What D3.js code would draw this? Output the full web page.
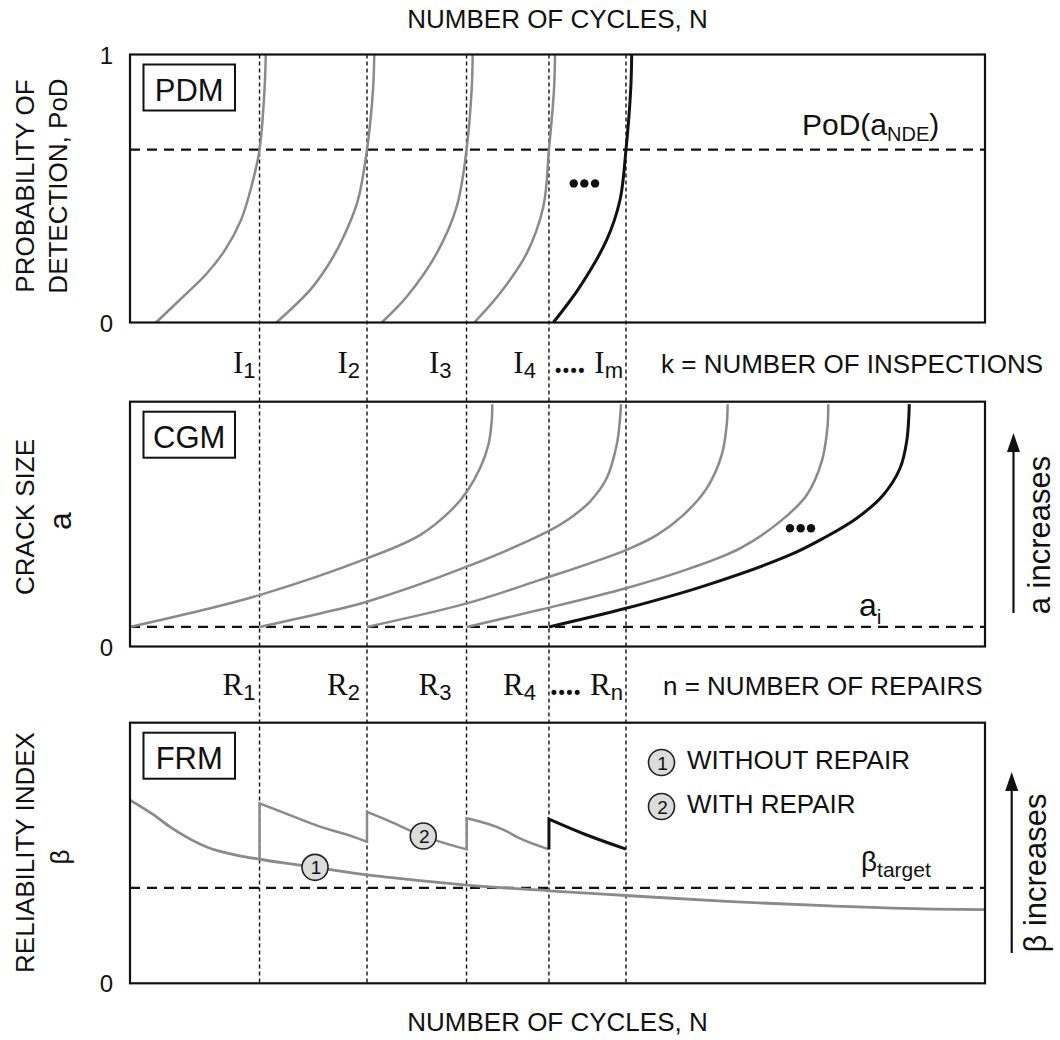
<!DOCTYPE html>
<html><head><meta charset="utf-8">
<script src="https://cdn.jsdelivr.net/npm/d3@7"></script>
<style>body{margin:0;background:#fff}</style>
</head><body>
<svg id="c" width="1060" height="1040"></svg>
<script>
// ---------------- DATA ----------------
// inspection / repair times (number of cycles, arbitrary units 0..100)
const inspections = [15.15, 27.72, 39.36, 49.0, 58.01];
const inspLabels = [["I","1"],["I","2"],["I","3"],["I","4"],["I","m"]];
const repairLabels = [["R","1"],["R","2"],["R","3"],["R","4"],["R","n"]];
const labelGaps = [4, 7, 15, 13, 3];

// PDM: probability of detection curves [N, PoD]
const podThreshold = 0.645;
const pdm1 = [[3.04,0],[6.0,0.09],[8.9,0.18],[11.1,0.27],[12.98,0.382],[14.2,0.507],[15.15,0.645],[15.73,0.868],[15.88,1]];
const pdm2 = [[17.13,0],[21.05,0.121],[23.05,0.208],[24.8,0.308],[26.6,0.45],[27.72,0.645],[28.42,0.868],[28.57,1]];
const pdm3 = [[29.44,0],[32.36,0.096],[35.87,0.258],[38.21,0.432],[39.36,0.645],[39.96,0.868],[40.08,1]];
const pdm4 = [[40.27,0],[43.27,0.109],[46.4,0.258],[48.34,0.432],[49.0,0.645],[49.59,0.868],[49.71,1]];
const pdm5 = [[49.51,0],[52.63,0.134],[55.75,0.308],[57.31,0.457],[58.01,0.645],[58.56,0.868],[58.68,1]];
const pdmCurves = [pdm1, pdm2, pdm3, pdm4, pdm5];

// CGM: crack growth curves [N, a]
const aInitial = 0.8;
const cgm1 = [[0,0.8],[8.19,1.46],[15.15,2.10],[27.72,3.60],[33.92,4.55],[37.81,5.65],[39.38,6.32],[40.94,7.28],[41.91,8.23],[42.3,9.18],[42.37,9.9]];
const cgm2 = [[15.15,0.8],[22.22,1.35],[27.72,1.83],[39.38,3.26],[49.0,4.72],[51.46,5.24],[53.8,5.92],[55.75,6.87],[56.92,8.23],[57.3,9.25],[57.43,9.9]];
const cgm3 = [[27.72,0.8],[39.38,1.76],[47.95,2.72],[58.01,3.94],[61.6,4.55],[64.71,5.37],[67.45,6.46],[69.2,7.82],[69.79,9.05],[69.9,9.9]];
const cgm4 = [[39.38,0.8],[47.95,1.5],[58.01,2.38],[65.5,3.19],[71.35,4.01],[76.02,5.10],[79.15,6.19],[80.9,7.55],[81.56,8.91],[81.67,9.9]];
const cgm5 = [[49.0,0.8],[58.01,1.56],[67.45,2.51],[77.19,3.74],[81.09,4.42],[85.0,5.24],[88.1,6.19],[90.06,7.28],[90.84,8.37],[91.15,9.9]];
const cgmCurves = [cgm1, cgm2, cgm3, cgm4, cgm5];

// FRM: reliability index [N, beta]
const betaTarget = 3.66;
const betaWithout = [[0,7.03],[2.69,6.48],[4.68,6.0],[6.78,5.58],[9.12,5.21],[12.4,4.92],[15.15,4.76],[18.36,4.6],[21.64,4.45],[27.72,4.16],[33.92,3.94],[39.38,3.77],[49.0,3.55],[58.01,3.37],[69.82,3.14],[81.87,2.97],[93.92,2.85],[100,2.83]];
// repair jumps: [N, beta before, beta after]
const repairJumps = [[15.15,4.76,6.91],[27.72,5.43,6.58],[39.38,5.14,6.33],[49.0,5.14,6.30]];
const repairDecay = [
  [[15.15,6.91],[18.33,6.5],[22.22,6.01],[26.08,5.63],[27.72,5.43]],
  [[27.72,6.58],[30.0,6.27],[34.3,5.65],[39.38,5.14]],
  [[39.38,6.33],[43.63,5.9],[45.6,5.56],[49.0,5.14]],
  [[49.0,6.30],[53.42,5.69],[58.01,5.15]]
];
const markerWithout = [21.64, 4.45];
const markerWith = [34.3, 5.65];
const pdmDots = [[51.9,0.519],[53.14,0.519],[54.39,0.519]];
const cgmDots = [[77.19,4.83],[78.44,4.83],[79.65,4.83]];

// ---------------- SCALES ----------------
const x = d3.scaleLinear().domain([0,100]).range([130,985]);
const yP = d3.scaleLinear().domain([0,1]).range([322.5,54.5]);
const yA = d3.scaleLinear().domain([0,10]).range([646.5,401.7]);
const yB = d3.scaleLinear().domain([0,10]).range([983.3,722.7]);

const SANS = "'Liberation Sans', Arial, Helvetica, sans-serif";
const SERIF = "'Liberation Serif', 'Times New Roman', serif";
const GRAY = "#8a8a8a";
const INK = "#111";

const svg = d3.select("#c");
svg.append("rect").attr("width",1060).attr("height",1040).attr("fill","#fff");

// horizontal dashed reference lines
[[yP, podThreshold],[yA, aInitial],[yB, betaTarget]].forEach(([s,v]) => {
  svg.append("line").attr("x1",x(0)).attr("x2",x(100)).attr("y1",s(v)).attr("y2",s(v))
    .attr("stroke",INK).attr("stroke-width",2.4).attr("stroke-dasharray","10,7");
});

// vertical inspection lines
svg.selectAll("line.insp").data(inspections).join("line").attr("class","insp")
  .attr("x1",d=>x(d)).attr("x2",d=>x(d)).attr("y1",yP(1)).attr("y2",yB(0))
  .attr("stroke",INK).attr("stroke-width",1.4).attr("stroke-dasharray","4,3");

const smooth = d3.curveCatmullRom.alpha(0.5);

// PDM curves
const lineP = d3.line().x(d=>x(d[0])).y(d=>yP(d[1])).curve(smooth);
svg.selectAll("path.pdm").data(pdmCurves).join("path").attr("class","pdm")
  .attr("d",lineP).attr("fill","none")
  .attr("stroke",(d,i)=> i===pdmCurves.length-1 ? INK : GRAY)
  .attr("stroke-width",(d,i)=> i===pdmCurves.length-1 ? 3 : 2.5);

// CGM curves
const lineA = d3.line().x(d=>x(d[0])).y(d=>yA(d[1])).curve(smooth);
svg.selectAll("path.cgm").data(cgmCurves).join("path").attr("class","cgm")
  .attr("d",lineA).attr("fill","none")
  .attr("stroke",(d,i)=> i===cgmCurves.length-1 ? INK : GRAY)
  .attr("stroke-width",(d,i)=> i===cgmCurves.length-1 ? 3 : 2.5);

// FRM curves
const lineB = d3.line().x(d=>x(d[0])).y(d=>yB(d[1])).curve(d3.curveMonotoneX);
svg.append("path").attr("d",lineB(betaWithout)).attr("fill","none").attr("stroke",GRAY).attr("stroke-width",2.8);

function repairPath(jumps, decays){
  let s = "";
  jumps.forEach((j,i)=>{
    if(i===0) s += "M"+x(j[0])+","+yB(j[1]);
    s += "L"+x(j[0])+","+yB(j[2]);
    const p = lineB(decays[i]);
    s += p.slice(p.search(/[CL]/));
  });
  return s;
}
svg.append("path").attr("d",repairPath(repairJumps.slice(0,3), repairDecay.slice(0,3)))
  .attr("fill","none").attr("stroke",GRAY).attr("stroke-width",2.5).attr("stroke-linejoin","miter");
svg.append("path").attr("d",repairPath(repairJumps.slice(3), repairDecay.slice(3)))
  .attr("fill","none").attr("stroke",INK).attr("stroke-width",3).attr("stroke-linejoin","miter");

// numbered markers
function numMarker(cx, cy, n){
  svg.append("circle").attr("cx",cx).attr("cy",cy).attr("r",13)
    .attr("fill","#dcdcdc").attr("stroke","#222").attr("stroke-width",1.6);
  svg.append("text").attr("x",cx+1).attr("y",cy+7).attr("text-anchor","middle")
    .attr("font-family",SANS).attr("font-size",19).attr("fill",INK).text(n);
}
numMarker(x(markerWithout[0]), yB(markerWithout[1]), "1");
numMarker(x(markerWith[0]), yB(markerWith[1]), "2");

// ellipsis dots
svg.selectAll("circle.pdot").data(pdmDots).join("circle").attr("class","pdot")
  .attr("cx",d=>x(d[0])).attr("cy",d=>yP(d[1])).attr("r",4.2).attr("fill",INK);
svg.selectAll("circle.cdot").data(cgmDots).join("circle").attr("class","cdot")
  .attr("cx",d=>x(d[0])).attr("cy",d=>yA(d[1])).attr("r",4.2).attr("fill",INK);

// panel frames
[[yP,1],[yA,10],[yB,10]].forEach(([s,top])=>{
  svg.append("rect").attr("x",x(0)).attr("y",s(top)).attr("width",x(100)-x(0)).attr("height",s(0)-s(top))
    .attr("fill","none").attr("stroke",INK).attr("stroke-width",2.2);
});

// panel name boxes
[["PDM",yP(1)],["CGM",yA(10)],["FRM",yB(10)]].forEach(([t,top])=>{
  svg.append("rect").attr("x",143.5).attr("y",top+10).attr("width",91.5).attr("height",46)
    .attr("fill","#fff").attr("stroke",INK).attr("stroke-width",2);
  svg.append("text").attr("x",189.25).attr("y",top+46).attr("text-anchor","middle")
    .attr("font-family",SANS).attr("font-size",31).attr("fill",INK).text(t);
});

// tick labels (axes)
function tickAxis(scale, vals){
  svg.append("g").attr("transform",`translate(${x(0)},0)`)
    .call(d3.axisLeft(scale).tickValues(vals).tickSize(0).tickPadding(17).tickFormat(d3.format("d")))
    .call(g=>g.select(".domain").remove())
    .selectAll("text").attr("font-size",24).attr("font-family",SANS).attr("fill",INK).attr("dy","0.36em");
}
tickAxis(yP,[0,1]); tickAxis(yA,[0]); tickAxis(yB,[0]);

// titles
function htext(xx, yy, str, size, anchor){
  return svg.append("text").attr("x",xx).attr("y",yy).attr("text-anchor",anchor||"start")
    .attr("font-family",SANS).attr("font-size",size).attr("fill",INK).text(str);
}
htext((x(0)+x(100))/2, 28, "NUMBER OF CYCLES, N", 26, "middle");
htext((x(0)+x(100))/2, 1031, "NUMBER OF CYCLES, N", 26, "middle");
htext(661, 373, "k = NUMBER OF INSPECTIONS", 26);
htext(663, 695, "n = NUMBER OF REPAIRS", 26);

function vtext(xx, yy, str, size){
  svg.append("text").attr("transform",`translate(${xx},${yy}) rotate(-90)`).attr("text-anchor","middle")
    .attr("font-family",SANS).attr("font-size",size).attr("fill",INK).text(str);
}
vtext(34, 186, "PROBABILITY OF", 26);
vtext(67, 186, "DETECTION, PoD", 26);
vtext(34, 517, "CRACK SIZE", 26);
vtext(71, 521, "a", 32);
vtext(34, 852.5, "RELIABILITY INDEX", 26);
vtext(69, 857, "β", 26);
vtext(1050, 535, "a increases", 31);
vtext(1046, 873, "β increases", 31);

// arrows
function arrow(ax, yBottom, yTip){
  svg.append("line").attr("x1",ax).attr("x2",ax).attr("y1",yBottom).attr("y2",yTip+14)
    .attr("stroke",INK).attr("stroke-width",2.2);
  svg.append("path").attr("d",`M${ax},${yTip}L${ax-6.5},${yTip+19}L${ax+6.5},${yTip+19}Z`).attr("fill",INK);
}
arrow(1013.5, 613, 433);
arrow(1011.7, 953, 772);

// inspection / repair labels
function seqLabels(labels, baseY){
  labels.forEach((l,i)=>{
    const t = svg.append("text").attr("x",x(inspections[i])-labelGaps[i]).attr("y",baseY)
      .attr("text-anchor","end").attr("fill",INK);
    if(i===labels.length-1){
      t.append("tspan").attr("font-family",SERIF).attr("font-weight","bold").attr("font-size",31).text("....");
      t.append("tspan").attr("dx",9).attr("font-family",SERIF).attr("font-size",31).text(l[0]);
    } else {
      t.append("tspan").attr("font-family",SERIF).attr("font-size",31).text(l[0]);
    }
    t.append("tspan").attr("dy",5).attr("font-family",SANS).attr("font-size",22).text(l[1]);
  });
}
seqLabels(inspLabels, 373);
seqLabels(repairLabels, 695);

// PoD(a_NDE)
{
  const t = svg.append("text").attr("x",802).attr("y",135).attr("font-family",SANS).attr("fill",INK);
  t.append("tspan").attr("font-size",30).text("PoD(a");
  t.append("tspan").attr("font-size",20).attr("dy",6).text("NDE");
  t.append("tspan").attr("font-size",30).attr("dy",-6).text(")");
}
// a_i
{
  const t = svg.append("text").attr("x",859).attr("y",616).attr("font-family",SANS).attr("fill",INK);
  t.append("tspan").attr("font-size",32).text("a");
  t.append("tspan").attr("font-size",21).attr("dy",8).text("i");
}
// beta_target
{
  const t = svg.append("text").attr("x",861).attr("y",871).attr("font-family",SANS).attr("fill",INK);
  t.append("tspan").attr("font-size",28).text("β");
  t.append("tspan").attr("font-size",21).attr("dy",6).text("target");
}

// legend
const legendItems = [["1","WITHOUT REPAIR"],["2","WITH REPAIR"]];
legendItems.forEach((d,i)=>{
  const cy = 762.5 + i*44;
  numMarker(661.5, cy, d[0]);
  htext(687, cy+6.5, d[1], 26);
});
</script>
</body></html>
